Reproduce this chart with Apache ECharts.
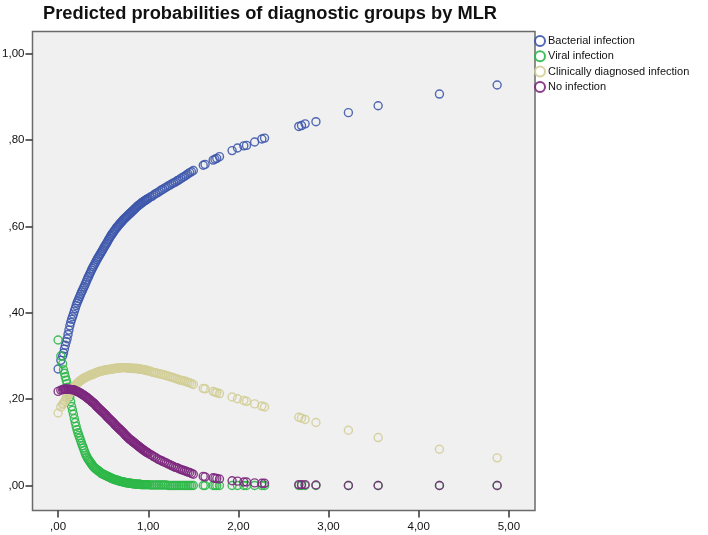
<!DOCTYPE html>
<html>
<head>
<meta charset="utf-8">
<script src="https://cdn.jsdelivr.net/npm/echarts@6/dist/echarts.min.js"></script>
<style>
  html, body { margin: 0; padding: 0; background: #ffffff; }
  #chart { width: 708px; height: 535px; }
</style>
</head>
<body>
<div id="chart"></div>
<script>
// Predictor values (x)
const xValues = [
  0.00, 0.03, 0.05,
  0.06, 0.07, 0.08, 0.09, 0.10, 0.11, 0.12, 0.13, 0.14, 0.15,
  0.16, 0.17, 0.18, 0.19, 0.20, 0.21, 0.22, 0.23, 0.24, 0.25,
  0.26, 0.27, 0.28, 0.29, 0.30, 0.31, 0.32, 0.33, 0.34, 0.35,
  0.36, 0.37, 0.38, 0.39, 0.40, 0.41, 0.42, 0.43, 0.44, 0.45,
  0.46, 0.47, 0.48, 0.49, 0.50, 0.51, 0.52, 0.53, 0.54, 0.55,
  0.56, 0.57, 0.58, 0.59, 0.60, 0.61, 0.62, 0.63, 0.64, 0.65,
  0.66, 0.67, 0.68, 0.69, 0.70, 0.71, 0.72, 0.73, 0.74, 0.75,
  0.76, 0.77, 0.78, 0.79, 0.80, 0.81, 0.82, 0.83, 0.84, 0.85,
  0.86, 0.87, 0.88, 0.89, 0.90, 0.91, 0.92, 0.93, 0.94, 0.95,
  0.96, 0.97, 0.98, 0.99, 1.00,
  1.02, 1.04, 1.06, 1.08, 1.10, 1.12, 1.14, 1.16, 1.18, 1.20,
  1.22, 1.24, 1.26, 1.28, 1.30, 1.32, 1.34, 1.36, 1.38, 1.40,
  1.42, 1.44, 1.46, 1.48, 1.50,
  1.61, 1.63, 1.72, 1.74, 1.76, 1.79, 1.93, 1.99, 2.06, 2.09,
  2.18, 2.26, 2.29, 2.67, 2.70, 2.74, 2.86, 3.22, 3.55, 4.23, 4.87
];
// Predicted probabilities per group, aligned with xValues
const bacterial = [
  0.270, 0.290, 0.300,
  0.307, 0.316, 0.325, 0.333, 0.340, 0.350, 0.360, 0.370, 0.378, 0.385,
  0.391, 0.397, 0.404, 0.410, 0.417, 0.423, 0.428, 0.433, 0.438, 0.443,
  0.448, 0.452, 0.457, 0.461, 0.466, 0.471, 0.476, 0.481, 0.485, 0.490,
  0.494, 0.499, 0.503, 0.507, 0.511, 0.515, 0.519, 0.523, 0.527, 0.530,
  0.534, 0.537, 0.541, 0.544, 0.548, 0.552, 0.555, 0.559, 0.562, 0.566,
  0.570, 0.573, 0.577, 0.580, 0.583, 0.586, 0.589, 0.592, 0.595, 0.598,
  0.600, 0.603, 0.605, 0.608, 0.610, 0.612, 0.615, 0.617, 0.619, 0.621,
  0.623, 0.625, 0.627, 0.629, 0.631, 0.633, 0.635, 0.637, 0.639, 0.641,
  0.643, 0.645, 0.647, 0.649, 0.650, 0.652, 0.654, 0.655, 0.657, 0.658,
  0.660, 0.661, 0.662, 0.664, 0.665,
  0.668, 0.670, 0.673, 0.676, 0.678, 0.681, 0.684, 0.686, 0.689, 0.691,
  0.694, 0.696, 0.699, 0.701, 0.703, 0.706, 0.708, 0.711, 0.714, 0.716,
  0.719, 0.722, 0.725, 0.727, 0.730,
  0.742, 0.744, 0.754, 0.756, 0.758, 0.762, 0.776, 0.782, 0.787, 0.788,
  0.796, 0.803, 0.805, 0.832, 0.834, 0.838, 0.843, 0.864, 0.880, 0.907, 0.928
];
const viral = [
  0.337, 0.300, 0.282,
  0.268, 0.260, 0.252, 0.244, 0.236, 0.228, 0.216, 0.205, 0.194, 0.183,
  0.174, 0.165, 0.155, 0.146, 0.137, 0.129, 0.122, 0.116, 0.110, 0.104,
  0.098, 0.092, 0.087, 0.081, 0.075, 0.070, 0.066, 0.062, 0.059, 0.056,
  0.053, 0.050, 0.047, 0.044, 0.042, 0.040, 0.038, 0.037, 0.035, 0.033,
  0.032, 0.030, 0.028, 0.027, 0.026, 0.025, 0.024, 0.023, 0.022, 0.021,
  0.020, 0.019, 0.018, 0.017, 0.016, 0.015, 0.014, 0.014, 0.013, 0.012,
  0.012, 0.011, 0.010, 0.010, 0.009, 0.009, 0.008, 0.008, 0.007, 0.007,
  0.006, 0.006, 0.006, 0.005, 0.005, 0.005, 0.004, 0.004, 0.004, 0.004,
  0.003, 0.003, 0.003, 0.003, 0.003, 0.003, 0.002, 0.002, 0.002, 0.002,
  0.002, 0.002, 0.002, 0.002, 0.002,
  0.001, 0.001, 0.001, 0.001, 0.001, 0.001, 0.001, 0.001, 0.001, 0.001,
  0.000, 0.000, 0.000, 0.000, 0.000, 0.000, 0.000, 0.000, 0.000, 0.000,
  0.000, 0.000, 0.000, 0.000, 0.000,
  0.000, 0.000, 0.000, 0.000, 0.000, 0.000, 0.000, 0.000, 0.000, 0.000,
  0.000, 0.000, 0.000, 0.000, 0.000, 0.000, 0.000, 0.000, 0.000, 0.000, 0.000
];
const clinical = [
  0.168, 0.182, 0.188,
  0.190, 0.194, 0.198, 0.202, 0.205, 0.208, 0.212, 0.215, 0.218, 0.221,
  0.224, 0.227, 0.230, 0.232, 0.234, 0.236, 0.238, 0.240, 0.242, 0.243,
  0.245, 0.246, 0.248, 0.249, 0.250, 0.251, 0.252, 0.253, 0.254, 0.255,
  0.256, 0.257, 0.257, 0.258, 0.259, 0.260, 0.261, 0.262, 0.263, 0.263,
  0.264, 0.265, 0.265, 0.266, 0.266, 0.267, 0.267, 0.268, 0.268, 0.268,
  0.269, 0.269, 0.269, 0.270, 0.270, 0.270, 0.271, 0.271, 0.271, 0.272,
  0.272, 0.272, 0.272, 0.273, 0.273, 0.273, 0.273, 0.273, 0.273, 0.273,
  0.273, 0.272, 0.272, 0.272, 0.272, 0.272, 0.272, 0.271, 0.271, 0.271,
  0.271, 0.271, 0.271, 0.270, 0.270, 0.270, 0.269, 0.269, 0.269, 0.268,
  0.268, 0.267, 0.267, 0.266, 0.266,
  0.265, 0.263, 0.262, 0.261, 0.260, 0.259, 0.258, 0.257, 0.256, 0.255,
  0.253, 0.252, 0.251, 0.250, 0.248, 0.247, 0.245, 0.244, 0.243, 0.242,
  0.241, 0.239, 0.238, 0.236, 0.234,
  0.225, 0.224, 0.218, 0.216, 0.215, 0.213, 0.205, 0.201, 0.197, 0.195,
  0.189, 0.184, 0.182, 0.158, 0.156, 0.153, 0.146, 0.128, 0.111, 0.084, 0.064
];
const noInfection = [
  0.218, 0.221, 0.222,
  0.223, 0.223, 0.223, 0.223, 0.223, 0.223, 0.223, 0.223, 0.222, 0.222,
  0.222, 0.222, 0.221, 0.220, 0.219, 0.218, 0.217, 0.216, 0.215, 0.214,
  0.212, 0.211, 0.210, 0.208, 0.207, 0.205, 0.204, 0.202, 0.200, 0.199,
  0.197, 0.195, 0.193, 0.192, 0.190, 0.188, 0.185, 0.183, 0.181, 0.179,
  0.177, 0.175, 0.173, 0.171, 0.169, 0.167, 0.165, 0.163, 0.160, 0.158,
  0.156, 0.154, 0.152, 0.150, 0.148, 0.146, 0.144, 0.141, 0.139, 0.137,
  0.135, 0.133, 0.131, 0.129, 0.127, 0.125, 0.123, 0.121, 0.118, 0.116,
  0.114, 0.112, 0.110, 0.108, 0.106, 0.105, 0.103, 0.101, 0.100, 0.098,
  0.096, 0.095, 0.093, 0.091, 0.090, 0.088, 0.086, 0.085, 0.083, 0.082,
  0.080, 0.079, 0.077, 0.076, 0.075,
  0.072, 0.070, 0.067, 0.065, 0.062, 0.060, 0.058, 0.056, 0.054, 0.052,
  0.050, 0.048, 0.046, 0.044, 0.042, 0.041, 0.039, 0.037, 0.036, 0.034,
  0.033, 0.031, 0.030, 0.028, 0.026,
  0.021, 0.020, 0.018, 0.017, 0.016, 0.015, 0.011, 0.010, 0.008, 0.008,
  0.006, 0.005, 0.005, 0.002, 0.002, 0.002, 0.001, 0.000, 0.000, 0.000, 0.000
];
const groupNames = ['Bacterial infection', 'Viral infection', 'Clinically diagnosed infection', 'No infection'];
const xTicks = [0, 1, 2, 3, 4, 5];
const xTickLabels = [',00', '1,00', '2,00', '3,00', '4,00', '5,00'];
const yTicks = [0, 0.2, 0.4, 0.6, 0.8, 1.0];
const yTickLabels = [',00', ',20', ',40', ',60', ',80', '1,00'];

const colors = ['#3E58AC', '#2EB848', '#D3CE97', '#7C287D'];
const seriesValues = [bacterial, viral, clinical, noInfection];

function labelFor(ticks, labels) {
  return function (v) {
    for (let i = 0; i < ticks.length; i++) {
      if (Math.abs(ticks[i] - v) < 1e-6) return labels[i];
    }
    return '';
  };
}

const FONT = '"Liberation Sans", Arial, sans-serif';
const chart = echarts.init(document.getElementById('chart'), null, { renderer: 'canvas' });

chart.setOption({
  animation: false,
  backgroundColor: '#ffffff',
  title: {
    text: 'Predicted probabilities of diagnostic groups by MLR',
    left: 38,
    top: 0,
    textStyle: { fontFamily: FONT, fontSize: 18.3, fontWeight: 'bold', color: '#111' }
  },
  legend: {
    orient: 'vertical',
    left: 534,
    top: 35,
    itemWidth: 10,
    itemHeight: 10,
    itemGap: 3.3,
    padding: 0,
    data: groupNames.map(n => ({ name: n, icon: 'circle' })),
    textStyle: { fontFamily: FONT, fontSize: 11, color: '#111', padding: [0, 0, 0, -2] }
  },
  grid: {
    left: 32.5,
    right: 173,
    top: 31.5,
    bottom: 24.5,
    show: true,
    backgroundColor: '#F0F0F0',
    borderColor: '#6a6a6a',
    borderWidth: 1.5,
    containLabel: false,
    outerBoundsMode: 'none'
  },
  xAxis: {
    type: 'value',
    min: -0.284,
    max: 5.29,
    splitLine: { show: false },
    axisLine: { show: false, onZero: false },
    axisTick: { show: true, length: 7, customValues: xTicks, lineStyle: { color: '#333', width: 1.5 } },
    axisLabel: {
      customValues: xTicks,
      formatter: labelFor(xTicks, xTickLabels),
      fontFamily: FONT, fontSize: 11.5, color: '#111', margin: 10
    }
  },
  yAxis: {
    type: 'value',
    min: -0.058,
    max: 1.052,
    splitLine: { show: false },
    axisLine: { show: false, onZero: false },
    axisTick: { show: true, length: 7, customValues: yTicks, lineStyle: { color: '#333', width: 1.5 } },
    axisLabel: {
      customValues: yTicks,
      formatter: labelFor(yTicks, yTickLabels),
      fontFamily: FONT, fontSize: 11.5, color: '#111', margin: 8
    }
  },
  series: groupNames.map((name, k) => ({
    name: name,
    type: 'scatter',
    symbol: 'circle',
    symbolSize: 8,
    itemStyle: { color: 'rgba(0,0,0,0)', borderColor: colors[k], borderWidth: 1.4, opacity: 0.9 },
    emphasis: { disabled: true },
    data: xValues.map((x, i) => [x, seriesValues[k][i]])
  }))
});
</script>
</body>
</html>
